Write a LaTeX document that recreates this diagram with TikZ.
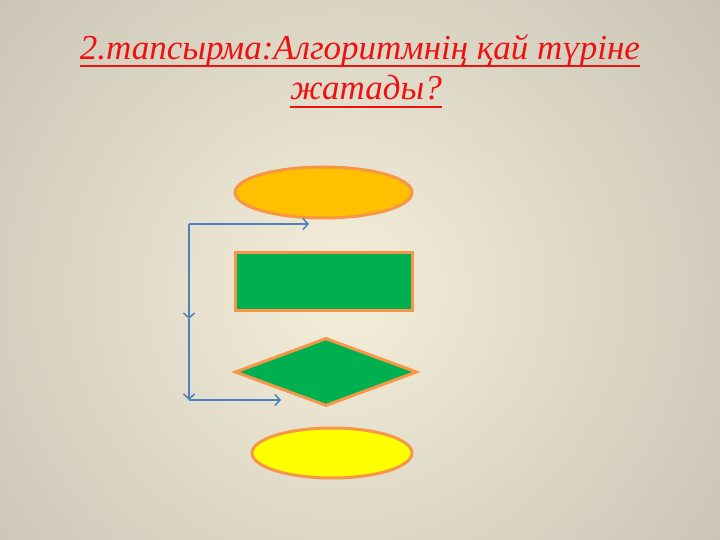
\documentclass[tikz,border=0pt]{standalone}
\usepackage{fontspec}
\setmainfont{Liberation Serif}
\usetikzlibrary{shapes.geometric,arrows.meta,calc}
\definecolor{bgin}{HTML}{F4EEDA}
\definecolor{bgout}{HTML}{A4A194}
\definecolor{ttlred}{HTML}{F01010}
\definecolor{orgfill}{HTML}{FFC000}
\definecolor{orgline}{HTML}{F79646}
\definecolor{grn}{HTML}{00B050}
\definecolor{ylw}{HTML}{FFFF00}
\definecolor{conblue}{HTML}{4F81BD}
\tikzset{
  shapebase/.style={draw=orgline, line width=3pt, inner sep=0pt},
  ovalbox/.style={shapebase, ellipse},
  rectbox/.style={shapebase, rectangle},
  diambox/.style={shapebase, diamond},
  conn/.style={draw=conblue, line width=1.5pt, -{Straight Barb[length=5pt,width=11pt,line width=1.5pt]}},
  ttl/.style={text=ttlred, font=\fontsize{35}{40}\selectfont\itshape, inner sep=0pt},
  uline/.style={draw=ttlred, line width=2.5pt}
}
\begin{document}
\begin{tikzpicture}[x=1pt,y=-1pt]
\useasboundingbox (0,0) rectangle (720,540);
\begin{scope}
\clip (0,0) rectangle (720,540);
\shade[inner color=bgin, outer color=bgout] (345,290) circle (860pt);
\end{scope}
\node[ttl, anchor=base] (t1) at (360,60) {2.тапсырма:Алгоритмнің қай түріне};
\node[ttl, anchor=base] (t2) at (366,100) {жатады?};
\draw[uline] ($(t1.base west)+(0,6)$) -- ($(t1.base east)+(0,6)$);
\draw[uline] ($(t2.base west)+(0,7)$) -- ($(t2.base east)+(0,7)$);
\node[ovalbox, fill=orgfill, minimum width=177pt, minimum height=51pt] (start) at (323.5,192.5) {};
\node[rectbox, fill=grn, minimum width=177pt, minimum height=58pt] (proc) at (323.5,281) {};
\node[diambox, fill=grn, minimum width=182pt, minimum height=68pt] (cond) at (326,372) {};
\node[ovalbox, fill=ylw, minimum width=160pt, minimum height=50pt] (stop) at (332,453) {};
\coordinate (ca) at (189,224);
\coordinate (ta) at (309,224);
\coordinate (cm) at (189,319);
\coordinate (cb) at (189,400);
\coordinate (tb) at (281,400);
\draw[conn] (ca) -- (ta);
\draw[conn] (ca) -- (cm);
\draw[conn] (cm) -- (cb);
\draw[conn] (cb) -- (tb);
\end{tikzpicture}
\end{document}
